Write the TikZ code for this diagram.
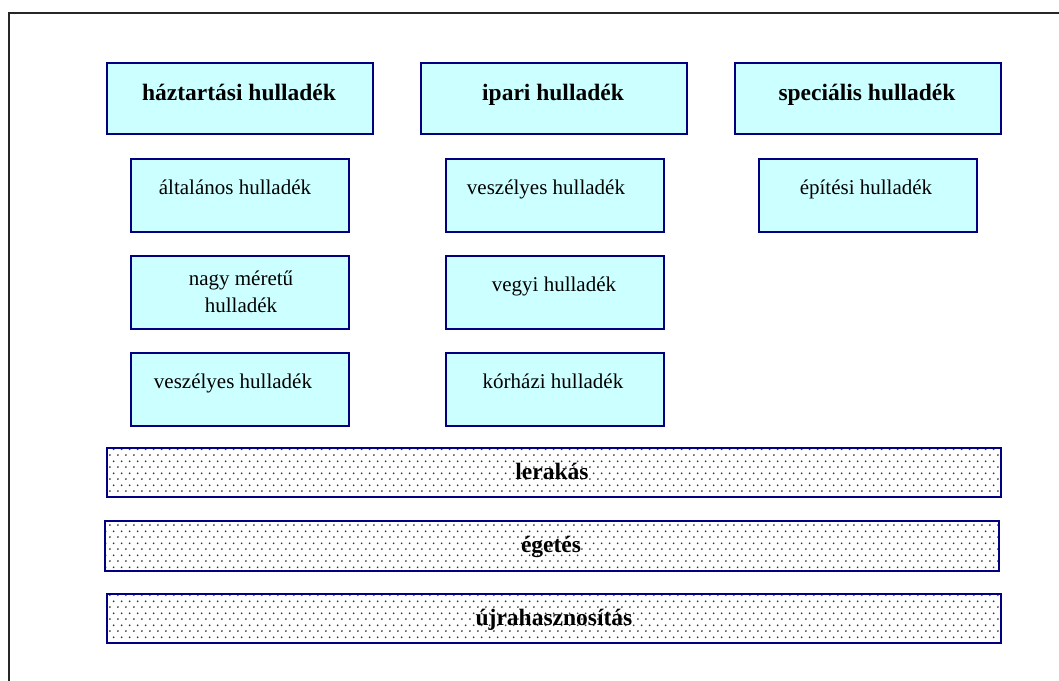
\documentclass[tikz,border=0pt]{standalone}
\usepackage{fontspec}
\setmainfont{Liberation Serif}
\usetikzlibrary{patterns.meta}
\definecolor{boxfill}{HTML}{CCFFFF}
\definecolor{boxline}{HTML}{000080}
\tikzdeclarepattern{
  name=wdots,
  type=uncolored,
  bounding box={(0pt,0pt) and (7.7pt,11.6pt)},
  tile size={(7.7pt,11.6pt)},
  code={\fill (2pt,3pt) circle (1pt); \fill (5.85pt,8.8pt) circle (1pt);}
}
\tikzset{
  catbox/.style={draw=boxline, line width=2pt, fill=boxfill, minimum width=266pt, minimum height=71pt, inner sep=0pt, anchor=north west},
  subbox/.style={draw=boxline, line width=2pt, fill=boxfill, minimum width=218pt, minimum height=73pt, inner sep=0pt, anchor=north west},
  band/.style={draw=boxline, line width=2pt, pattern=wdots, pattern color=black!80, minimum width=894pt, minimum height=49pt, inner sep=0pt, anchor=north west},
  boldlbl/.style={font=\fontsize{23.5}{28}\selectfont\bfseries, anchor=base, inner sep=0pt},
  lbl/.style={font=\fontsize{21}{27}\selectfont, anchor=base, inner sep=0pt},
  frame/.style={draw=black!85, line width=1.5pt}
}
\begin{document}
\begin{tikzpicture}[x=1pt,y=-1pt]
\useasboundingbox (0,0) rectangle (1059,680);
\draw[frame] (9,13) rectangle (1080,700);
% category boxes
\node[catbox] (c1) at (106,62) {};
\node[catbox] (c2) at (420,62) {};
\node[catbox] (c3) at (734,62) {};
\node[boldlbl] (t1) at (239,100) {háztartási hulladék};
\node[boldlbl] (t2) at (553,100) {ipari hulladék};
\node[boldlbl] (t3) at (867,100) {speciális hulladék};
% sub boxes
\node[subbox] (s11) at (130,158) {};
\node[subbox] (s12) at (130,255) {};
\node[subbox] (s13) at (130,352) {};
\node[subbox] (s21) at (445,158) {};
\node[subbox] (s22) at (445,255) {};
\node[subbox] (s23) at (445,352) {};
\node[subbox] (s31) at (758,158) {};
\node[lbl] (l11) at (235,194) {általános hulladék};
\node[lbl] (l12a) at (241,285) {nagy méretű};
\node[lbl] (l12b) at (241,312) {hulladék};
\node[lbl] (l13) at (233,388) {veszélyes hulladék};
\node[lbl] (l21) at (546,194) {veszélyes hulladék};
\node[lbl] (l22) at (554,291) {vegyi hulladék};
\node[lbl] (l23) at (553,388) {kórházi hulladék};
\node[lbl] (l31) at (866,194) {építési hulladék};
% bands
\node[band] (b1) at (106,447) {};
\node[band, minimum height=50pt] (b2) at (104,520) {};
\node[band] (b3) at (106,593) {};
\node[boldlbl] (bl1) at (552,479) {lerakás};
\node[boldlbl] (bl2) at (551,552) {égetés};
\node[boldlbl] (bl3) at (554,625) {újrahasznosítás};
\end{tikzpicture}
\end{document}
